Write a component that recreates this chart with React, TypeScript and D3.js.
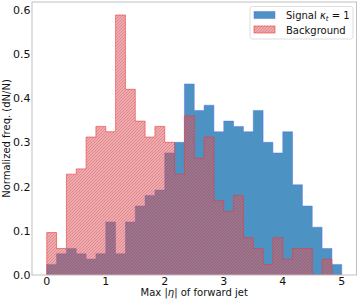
import * as d3 from 'd3';
import React from 'react';

// 30 bins over [0, 5], density-normalised
const binEdges = d3.range(31).map((i) => i / 6);

const signalValues = [
  0.024, 0.048, 0.06, 0.048, 0.036, 0.048, 0.12, 0.048, 0.12, 0.156,
  0.18, 0.192, 0.276, 0.3, 0.432, 0.372, 0.384, 0.324, 0.348, 0.336,
  0.324, 0.372, 0.3, 0.276, 0.324, 0.204, 0.156, 0.108, 0.06, 0.024,
];

const backgroundValues = [
  0.096, 0.06, 0.228, 0.24, 0.312, 0.336, 0.324, 0.588, 0.42, 0.348,
  0.312, 0.336, 0.3, 0.228, 0.36, 0.264, 0.312, 0.168, 0.144, 0.18,
  0.084, 0.06, 0.024, 0.084, 0.036, 0.06, 0.06, 0, 0.036, 0,
];

const xTicks = [0, 1, 2, 3, 4, 5];
const yTicks = [0, 0.1, 0.2, 0.3, 0.4, 0.5, 0.6];

const FONT = 'DejaVu Sans, sans-serif';
const BG_FILL = 'rgba(230,90,95,0.52)';
const BG_EDGE = 'rgba(235,60,60,0.75)';
const SIG_FILL = 'rgba(31,119,180,0.8)';
const SIG_EDGE = 'rgba(90,110,240,0.6)';

const App: React.FC = () => {
  const width = 360;
  const height = 300;
  const plot = { left: 32, right: 356.5, top: 2, bottom: 275 };

  const yMax = d3.max([...signalValues, ...backgroundValues]) || 0;

  const xScale = d3.scaleLinear().domain([-0.25, 5.25]).range([plot.left, plot.right]);
  const yScale = d3.scaleLinear().domain([0, yMax * 1.05]).range([plot.bottom, plot.top]);

  const stepPath = (values: number[]) => {
    const pts: [number, number][] = [[binEdges[0], 0]];
    values.forEach((v, i) => {
      pts.push([binEdges[i], v]);
      pts.push([binEdges[i + 1], v]);
    });
    pts.push([binEdges[binEdges.length - 1], 0]);
    const line = d3
      .line<[number, number]>()
      .x((d) => xScale(d[0]))
      .y((d) => yScale(d[1]));
    return line(pts) + 'Z';
  };

  const cx = (plot.left + plot.right) / 2;
  const cy = (plot.top + plot.bottom) / 2;

  return (
    <svg
      width={width}
      height={height}
      style={{ position: 'absolute', left: 0, top: 0, background: '#fff' }}
      fontFamily={FONT}
    >
      <defs>
        <pattern id="hatch" patternUnits="userSpaceOnUse" width={3} height={3}>
          <path d="M-1,1 L1,-1 M0,3 L3,0 M2,4 L4,2" stroke="rgba(130,30,50,0.3)" strokeWidth={0.7} />
        </pattern>
        <clipPath id="plotClip">
          <rect x={plot.left} y={plot.top} width={plot.right - plot.left} height={plot.bottom - plot.top} />
        </clipPath>
      </defs>

      <g clipPath="url(#plotClip)">
        <path d={stepPath(signalValues)} fill={SIG_FILL} stroke={SIG_EDGE} strokeWidth={0.8} />
        <path d={stepPath(backgroundValues)} fill={BG_FILL} />
        <path d={stepPath(backgroundValues)} fill="url(#hatch)" stroke={BG_EDGE} strokeWidth={0.8} />
      </g>

      {/* frame */}
      <rect
        x={plot.left}
        y={plot.top}
        width={plot.right - plot.left}
        height={plot.bottom - plot.top}
        fill="none"
        stroke="#bfbfbf"
        strokeWidth={1}
      />

      {xTicks.map((t) => (
        <text key={`x-${t}`} x={xScale(t)} y={285} textAnchor="middle" fontSize={11} fill="#111">
          {t}
        </text>
      ))}
      {yTicks.map((t) => (
        <text key={`y-${t}`} x={30.5} y={yScale(t)} dy="0.36em" textAnchor="end" fontSize={11} fill="#111">
          {t.toFixed(1)}
        </text>
      ))}

      <text x={cx} y={295.5} textAnchor="middle" fontSize={10} fill="#111">
        Max |<tspan fontStyle="italic">η</tspan>| of forward jet
      </text>
      <text transform={`translate(9.5,${cy}) rotate(-90)`} textAnchor="middle" fontSize={10} fill="#111">
        Normalized freq. (dN/N)
      </text>

      {/* legend */}
      <g>
        <rect x={250} y={6.5} width={103} height={32.5} rx={2.5} fill="rgba(255,255,255,0.85)" stroke="#d6d6d6" strokeWidth={0.8} />
        <rect x={254} y={11.5} width={21} height={7} fill={SIG_FILL} stroke={SIG_EDGE} strokeWidth={0.8} />
        <rect x={254} y={26} width={21} height={7} fill={BG_FILL} />
        <rect x={254} y={26} width={21} height={7} fill="url(#hatch)" stroke={BG_EDGE} strokeWidth={0.8} />
        <text x={286} y={18.5} fontSize={10} fill="#111">
          Signal <tspan fontStyle="italic">κ</tspan>
          <tspan fontStyle="italic" fontSize={7} dy={2}>t</tspan>
          <tspan dy={-2}> = 1</tspan>
        </text>
        <text x={286} y={33.5} fontSize={10} fill="#111">
          Background
        </text>
      </g>
    </svg>
  );
};

export default App;
